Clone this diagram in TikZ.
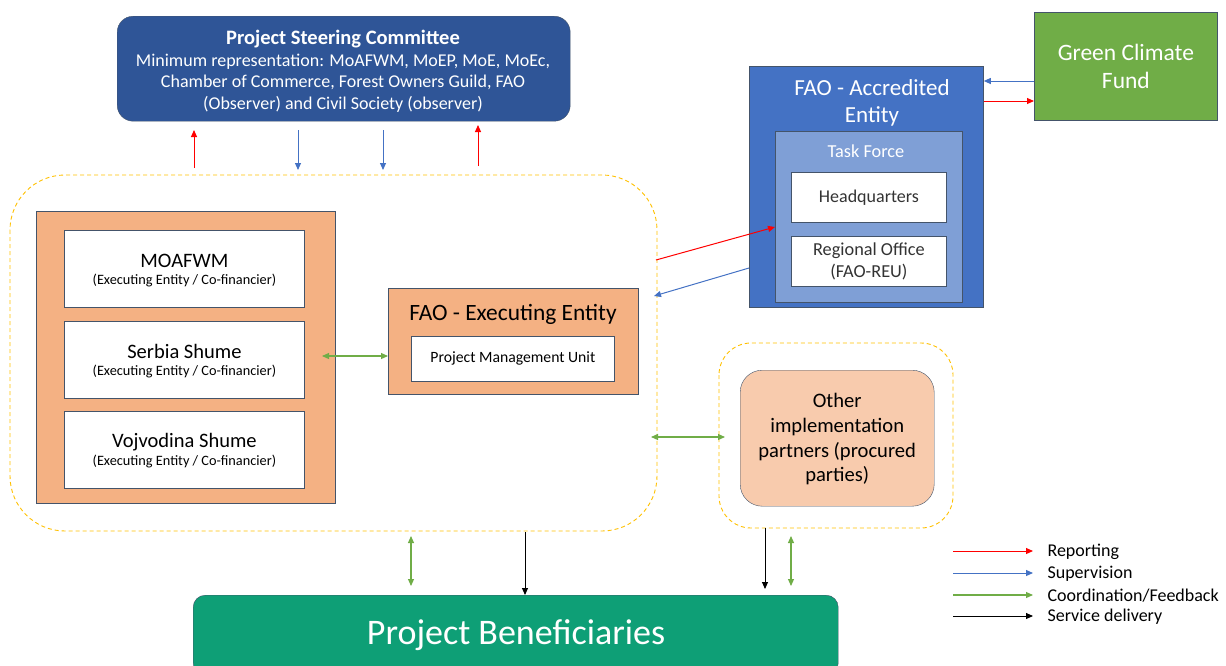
\documentclass[tikz,border=0pt]{standalone}
\usepackage{fontspec}
\setmainfont{Carlito}
\usetikzlibrary{arrows.meta}
\definecolor{pscblue}{HTML}{2F5597}
\definecolor{aeblue}{HTML}{4472C4}
\definecolor{tfblue}{HTML}{7F9FD6}
\definecolor{gcfgreen}{HTML}{70AD47}
\definecolor{orng}{HTML}{F4B183}
\definecolor{lorng}{HTML}{F8CBAD}
\definecolor{benef}{HTML}{0E9F76}
\definecolor{dashy}{HTML}{FFC000}
\definecolor{edgec}{HTML}{44546A}
\definecolor{repred}{HTML}{FF0000}
\definecolor{supblue}{HTML}{4472C4}
\definecolor{coogreen}{HTML}{70AD47}
\tikzset{
  x=1pt,y=-1pt,
  tip/.style={-{Triangle[length=7pt,width=6pt]}},
  dtip/.style={{Triangle[length=7pt,width=6pt]}-{Triangle[length=7pt,width=6pt]}},
  rep/.style={tip,draw=repred,line width=1pt},
  sup/.style={tip,draw=supblue,line width=1pt},
  coo/.style={dtip,draw=coogreen,line width=1.1pt},
  srv/.style={tip,draw=black,line width=0.9pt},
  box/.style={draw=edgec,line width=0.8pt,inner sep=0pt,anchor=north west},
  wbox/.style={box,fill=white},
  dashbox/.style={draw=dashy,line width=0.9pt,dash pattern=on 4pt off 3pt},
  fs/.style={font=\fontsize{#1pt}{1.2\dimexpr#1pt\relax}\selectfont},
}
\begin{document}
\begin{tikzpicture}
\useasboundingbox (0,0) rectangle (1226,665);
% dashed regions
\draw[dashbox,rounded corners=55pt] (10,175) rectangle (657,531);
\draw[dashbox,rounded corners=32pt] (719,343) rectangle (953,528);
% Project Steering Committee
\node[draw=edgec,fill=pscblue,rounded corners=16pt,minimum width=453pt,minimum height=105pt,inner sep=0pt,anchor=north west] (psc) at (117,16) {};
\node[text=white,fs=20.5] (psct) at (343,39) {\bfseries Project Steering Committee};
\node[text=white,fs=18,align=center] (pscb) at (343,83) {Minimum representation: MoAFWM, MoEP, MoE, MoEc,\\Chamber of Commerce, Forest Owners Guild, FAO\\(Observer) and Civil Society (observer)};
% left orange group
\node[box,fill=orng,minimum width=299pt,minimum height=292pt] (grp) at (36,211) {};
\node[wbox,minimum width=240pt,minimum height=77pt] (moa) at (64,230) {};
\node[wbox,minimum width=240pt,minimum height=77pt] (ser) at (64,321) {};
\node[wbox,minimum width=240pt,minimum height=77pt] (voj) at (64,411) {};
\foreach \n/\t in {moa/MOAFWM,ser/Serbia Shume,voj/Vojvodina Shume}{
  \node[fs=20.5] at ([yshift=8pt]\n.center) {\t};
  \node[fs=14.3] at ([yshift=-12pt]\n.center) {(Executing Entity / Co-financier)};
}
% FAO executing entity
\node[box,fill=orng,minimum width=250pt,minimum height=106pt] (fee) at (388,288) {};
\node[fs=23.4] at (513,314) {FAO - Executing Entity};
\node[wbox,minimum width=203pt,minimum height=45pt] (pmu) at (411,336) {};
\node[fs=15.7] at (pmu.center) {Project Management Unit};
% Accredited entity
\node[box,fill=aeblue,minimum width=234pt,minimum height=241pt] (ae) at (749,66) {};
\node[text=white,fs=23,align=center] at (872,103) {FAO - Accredited\\Entity};
\node[box,fill=tfblue,minimum width=187pt,minimum height=171pt] (tf) at (775,131) {};
\node[text=white,fs=18.3] at (866,151) {Task Force};
\node[wbox,minimum width=155pt,minimum height=50pt] (hq) at (791,172) {};
\node[fs=18,text=black!80] at (hq.center) {Headquarters};
\node[wbox,minimum width=155pt,minimum height=50pt] (ro) at (791,236) {};
\node[fs=18.3,text=black!80,align=center] at (ro.center) {Regional Office\\(FAO-REU)};
% GCF
\node[box,fill=gcfgreen,minimum width=183pt,minimum height=108pt] (gcf) at (1034,12) {};
\node[text=white,fs=23.5,align=center] at (gcf.center) {Green Climate\\Fund};
% Other partners
\node[draw=edgec,fill=lorng,rounded corners=22pt,minimum width=194pt,minimum height=136pt,inner sep=0pt,anchor=north west] (oip) at (740,370) {};
\node[fs=20.6,align=center] at ([yshift=-1pt]oip.center) {Other\\implementation\\partners (procured\\parties)};
% Beneficiaries
\node[draw=edgec,fill=benef,rounded corners=12pt,minimum width=645pt,minimum height=80pt,inner sep=0pt,anchor=north west] (ben) at (193,595) {};
\node[text=white,fs=36] at (516,635) {Project Beneficiaries};
% coordinates for arrows
\coordinate (a1s) at (194,168); \coordinate (a1e) at (194,130);
\coordinate (a2s) at (298,130); \coordinate (a2e) at (298,170);
\coordinate (a3s) at (383,130); \coordinate (a3e) at (383,170);
\coordinate (a4s) at (478,166); \coordinate (a4e) at (478,125);
\draw[rep] (a1s) -- (a1e);
\draw[sup] (a2s) -- (a2e);
\draw[sup] (a3s) -- (a3e);
\draw[rep] (a4s) -- (a4e);
% GCF arrows
\draw[sup] (gcf.west |- 0,81) -- (ae.east |- 0,81);
\draw[rep] (ae.east |- 0,101) -- (gcf.west |- 0,101);
% dashed region <-> accredited
\coordinate (r1) at (656,260);
\coordinate (b1) at (654,296);
\draw[rep] (r1) -- (tf.west |- 0,227);
\draw[sup] (ae.west |- 0,268) -- (b1);
% coordination
\draw[coo] (322,356) -- (fee.west |- 0,356);
\coordinate (c1) at (651,437); \coordinate (c2) at (725,437);
\draw[coo] (c1) -- (c2);
\draw[coo] (411,536) -- (411,586);
\draw[srv] (525,532) -- (ben.north -| 525,0);
\draw[srv] (765,528) -- (765,589);
\draw[coo] (791,536) -- (791,586);
% legend
\coordinate (l1) at (953,551); \coordinate (l1e) at (1033,551);
\coordinate (l2) at (953,573); \coordinate (l2e) at (1033,573);
\coordinate (l3) at (953,595); \coordinate (l3e) at (1033,595);
\coordinate (l4) at (953,616); \coordinate (l4e) at (1033,616);
\draw[rep] (l1) -- (l1e);
\draw[sup] (l2) -- (l2e);
\draw[tip,draw=coogreen,line width=1.1pt] (l3) -- (l3e);
\draw[srv] (l4) -- (l4e);
\node[fs=18,anchor=west] at (1044,552) {Reporting};
\node[fs=18,anchor=west] at (1044,574) {Supervision};
\node[fs=18,anchor=west] at (1044,596) {Coordination/Feedback};
\node[fs=18,anchor=west] at (1044,617) {Service delivery};
\end{tikzpicture}
\end{document}
